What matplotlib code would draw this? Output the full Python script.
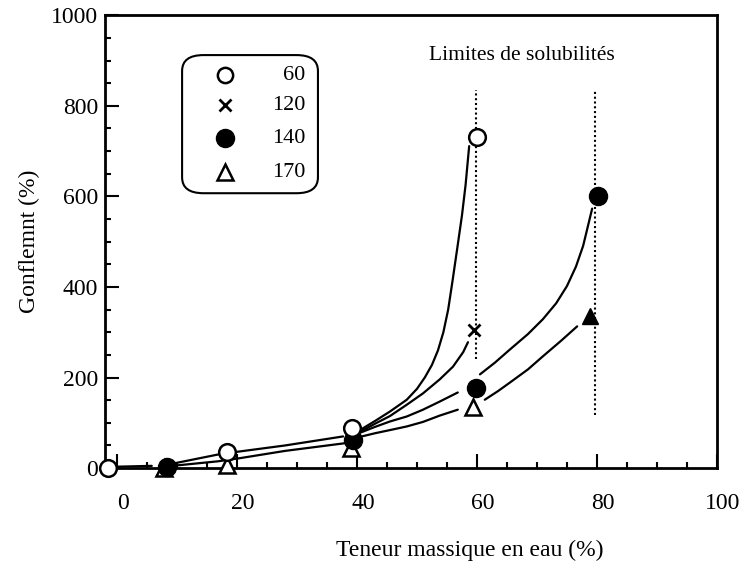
import numpy as np
import matplotlib
matplotlib.use("Agg")
import matplotlib.pyplot as plt
from matplotlib.patches import FancyBboxPatch
from matplotlib.ticker import MultipleLocator
import matplotlib.transforms as mtransforms

plt.rcParams["font.family"] = ["Liberation Serif", "DejaVu Serif"]

# measured points (x = teneur en eau %, y = gonflement %)
x60 = [-1.5, 18.3, 39.2, 60.0]
y60 = [0, 35, 88, 731]
x120 = [59.5]
y120 = [305]
x140 = [8.3, 39.3, 59.8, 80.2]
y140 = [3, 62, 178, 600]
x170 = [7.8, 18.3, 39.0, 59.3]
y170 = [0, 7, 44, 135]
x170_end = [78.8]
y170_end = [335]

# hand drawn curves
seg0_x = [-0.5, 5.8]
seg0_y = [3, 5]
seg1_x = [9.7, 17.2]
seg1_y = [11, 31]
seg2_x = [10.0, 16.8, 20.5, 28.0, 38.0]
seg2_y = [6, 15, 22, 38, 55]
seg3_x = [20.0, 28.0, 37.7]
seg3_y = [36, 50, 70]
fan60_x = [40.5, 43.0, 45.5, 48.3, 50.0, 51.3, 52.5, 53.5, 54.4, 55.2, 55.9, 56.7, 57.5, 58.1, 58.7]
fan60_y = [84, 104, 125, 151, 175, 200, 228, 260, 300, 350, 411, 484, 558, 625, 711]
fan120_x = [40.5, 43.0, 45.5, 48.3, 51.0, 53.8, 56.0, 57.7, 58.5]
fan120_y = [80, 98, 115, 140, 165, 196, 224, 256, 278]
fan140_x = [40.5, 43.0, 45.5, 48.3, 51.0, 53.8, 56.8]
fan140_y = [78, 91, 103, 114, 129, 147, 167]
fan170_x = [40.5, 43.0, 45.5, 48.3, 51.0, 53.8, 56.8]
fan170_y = [69, 77, 84, 92, 102, 116, 129]
arc140_x = [60.5, 63.0, 65.5, 68.5, 71.0, 73.2, 75.0, 76.5, 77.7, 79.2]
arc140_y = [207, 233, 262, 296, 329, 364, 402, 445, 491, 573]
arc170_x = [61.3, 63.5, 65.5, 68.5, 71.0, 74.0, 76.7]
arc170_y = [151, 170, 189, 218, 247, 281, 313]

limit_x = [59.9, 79.7]
limit_ymin = [240, 118]
limit_ymax = [835, 835]

legend_labels = ["60", "120", "140", "170"]

fig = plt.figure(figsize=(7.52, 5.64), dpi=100)
ax = fig.add_axes([0.1396, 0.170, 0.8138, 0.803])

curves = [(seg0_x, seg0_y), (seg1_x, seg1_y), (seg2_x, seg2_y), (seg3_x, seg3_y),
          (fan60_x, fan60_y), (fan120_x, fan120_y), (fan140_x, fan140_y),
          (fan170_x, fan170_y), (arc140_x, arc140_y), (arc170_x, arc170_y)]
for cx, cy in curves:
    ax.plot(cx, cy, color="black", lw=1.6, solid_capstyle="round",
            solid_joinstyle="round", zorder=2)

ax.vlines(limit_x, limit_ymin, limit_ymax, colors="black", linestyles=(0, (1, 1.3)),
          lw=1.5, zorder=1)

ax.plot(x170, y170, ls="none", marker="^", ms=12, mfc="white", mec="black", mew=1.8,
        zorder=3, clip_on=False)
ax.plot(x170_end, y170_end, ls="none", marker="^", ms=12, mfc="black", mec="black",
        zorder=3, clip_on=False)
ax.plot(x140, y140, ls="none", marker="o", ms=13, mfc="black", mec="black",
        zorder=4, clip_on=False)
ax.plot(x120, y120, ls="none", marker="x", ms=8, mec="black", mew=2, zorder=4)
ax.plot(x60, y60, ls="none", marker="o", ms=12, mfc="white", mec="black", mew=1.8,
        zorder=5, clip_on=False)

ax.text(67.5, 912, "Limites de solubilités", fontsize=15.5, ha="center", va="center")

# legend box drawn by hand (rounded frame, labels right aligned)
box = FancyBboxPatch((0.126, 0.607), 0.222, 0.305, transform=ax.transAxes,
                     boxstyle="round,pad=0,rounding_size=0.035", fc="white",
                     ec="black", lw=1.5, zorder=6)
ax.add_patch(box)
rows = [0.868, 0.801, 0.728, 0.653]
styles = [dict(marker="o", ms=11, mfc="white", mec="black", mew=1.8),
          dict(marker="x", ms=9, mec="black", mew=2),
          dict(marker="o", ms=13, mfc="black", mec="black"),
          dict(marker="^", ms=12, mfc="white", mec="black", mew=1.8)]
for ry, st, lab in zip(rows, styles, legend_labels):
    ax.plot([0.196], [ry], ls="none", transform=ax.transAxes, zorder=7, **st)
    ax.text(0.327, ry, lab, transform=ax.transAxes, ha="right", va="center",
            fontsize=16, zorder=7)

ax.set_xlim(-2, 100)
ax.set_ylim(0, 1000)
ax.xaxis.set_major_locator(MultipleLocator(20))
ax.xaxis.set_minor_locator(MultipleLocator(5))
ax.yaxis.set_major_locator(MultipleLocator(200))
ax.yaxis.set_minor_locator(MultipleLocator(50))
ax.tick_params(which="both", direction="in", top=False, right=False, width=1.5,
               labelsize=17)
ax.tick_params(which="major", length=10)
ax.tick_params(which="minor", length=4)
ax.tick_params(axis="x", pad=18)
ax.tick_params(axis="y", pad=5)
for sp in ax.spines.values():
    sp.set_linewidth(2)

offset = mtransforms.ScaledTranslation(6 / 100, 0, fig.dpi_scale_trans)
for lbl in ax.get_xticklabels():
    lbl.set_transform(lbl.get_transform() + offset)

ax.set_ylabel("Gonflemnt (%)", fontsize=17, labelpad=8)
fig.text(470 / 752, 1 - 550 / 564, "Teneur massique en eau (%)", fontsize=17,
         ha="center", va="center")

fig.savefig("out.png", dpi=100)
